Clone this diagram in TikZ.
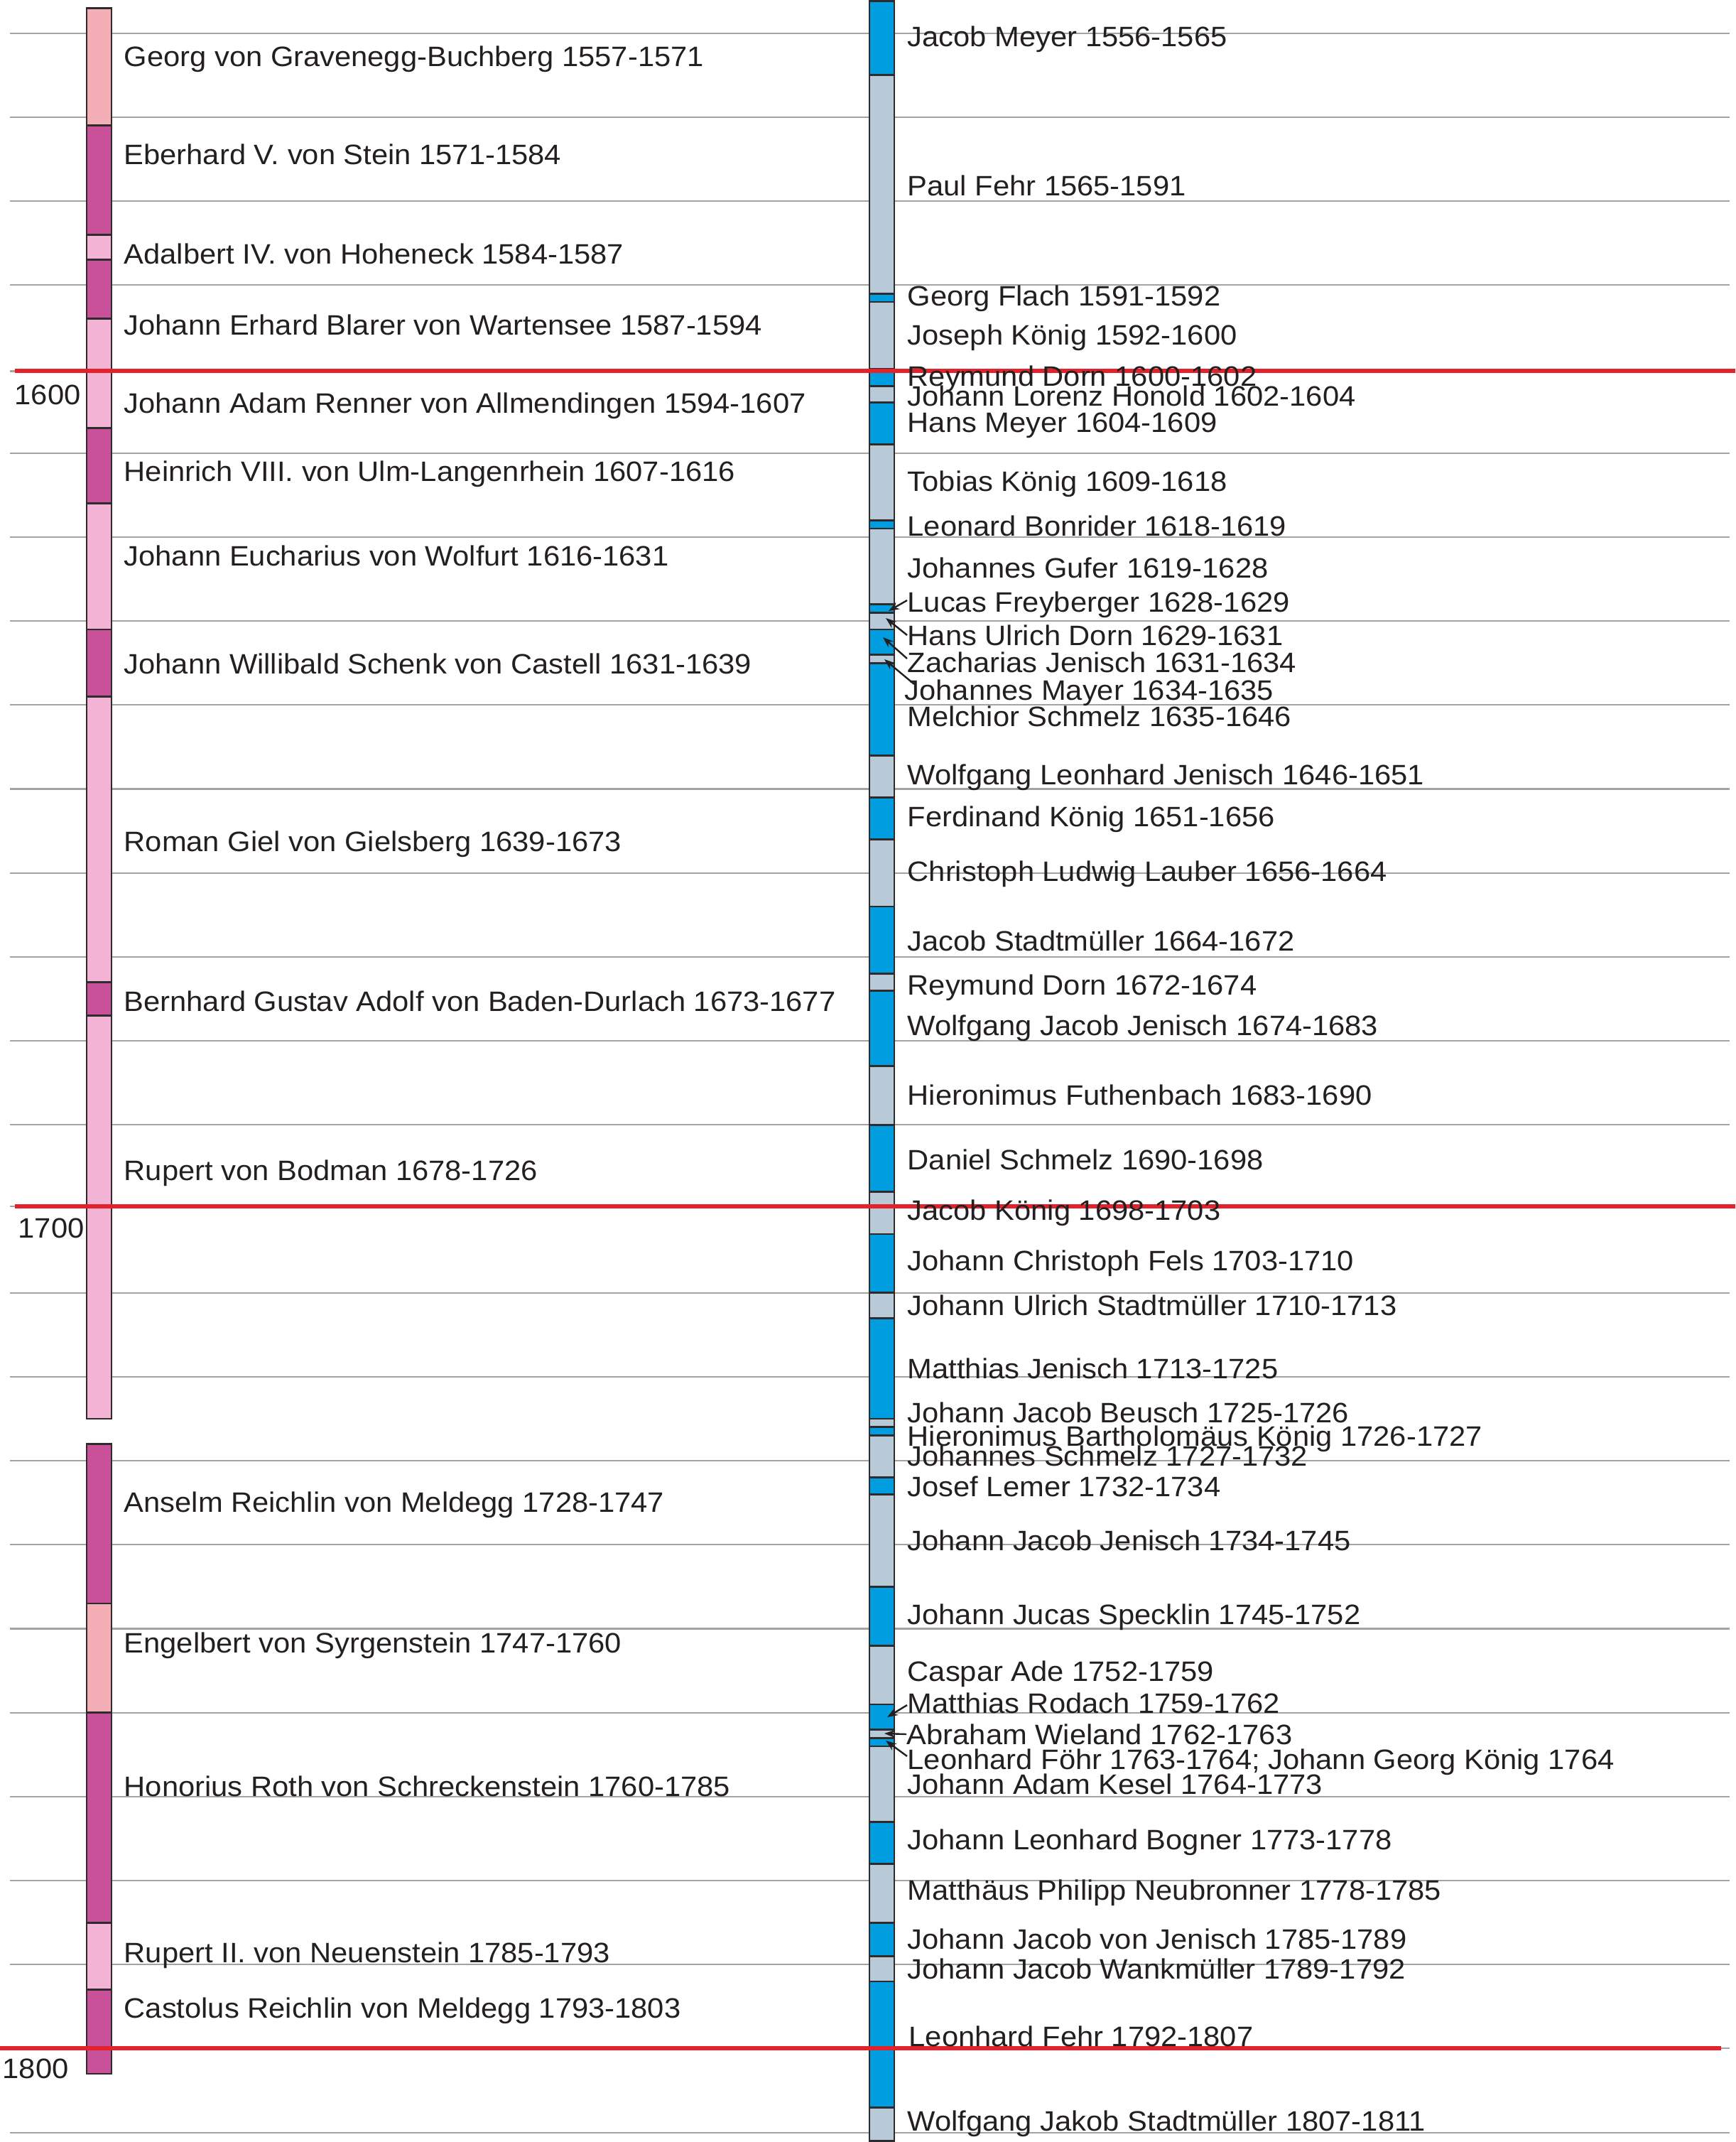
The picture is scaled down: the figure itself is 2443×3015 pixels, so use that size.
\documentclass[tikz,border=0pt]{standalone}
\usepackage{fontspec}
\setmainfont{Liberation Sans}[FakeStretch=1.055]
\usetikzlibrary{arrows.meta}
\definecolor{abSalmon}{HTML}{F3AFB5}
\definecolor{abMag}{HTML}{C8519A}
\definecolor{abPink}{HTML}{F3B3D4}
\definecolor{bBlue}{HTML}{009EE0}
\definecolor{bGrey}{HTML}{B8CAD8}
\definecolor{redLine}{HTML}{E3232C}
\definecolor{gridGrey}{HTML}{A3A3A3}
\definecolor{txtDark}{HTML}{231F20}
\definecolor{barEdge}{HTML}{2E2B2C}
\begin{document}
\begin{tikzpicture}[x=0.1mm,y=-0.1mm,
  declare function={yr(\t)=46.7+(\t-1560)*11.82;},
  gridline/.style={draw=gridGrey,line width=0.22mm},
  redrule/.style={draw=redLine,line width=0.6mm},
  segbox/.style={draw=barEdge,line width=0.28mm},
  lab/.style={anchor=west,inner sep=0pt,text height=2.83mm,text depth=0pt,
    font=\fontsize{11.25pt}{13pt}\selectfont,text=txtDark},
  pointer/.style={draw=txtDark,line width=0.24mm,-{Stealth[length=1.5mm,width=1.1mm]}}]
\useasboundingbox (0,0) rectangle (2443,3015);
% grid
\foreach \t in {1560,1570,1580,1590,1610,1620,1630,1640,1650,1660,1670,1680,1690,1710,1720,1730,1740,1750,1760,1770,1780,1790,1810}
  \draw[gridline] (14,{yr(\t)}) -- (2435,{yr(\t)});
\draw[gridline] (14,522.5) -- (2435,522.5);
\draw[gridline] (14,1698) -- (2435,1698);
\draw[gridline] (14,2883) -- (2435,2883);
% left bar
\foreach \a/\b/\c in {1557/1571/abSalmon,1571/1584/abMag,1584/1587/abPink,1587/1594/abMag,
  1594/1607/abPink,1607/1616/abMag,1616/1631/abPink,1631/1639/abMag,1639/1673/abPink,
  1673/1677/abMag,1677/1725/abPink,1728/1747/abMag,1747/1760/abSalmon,1760/1785/abMag,
  1785/1793/abPink,1793/1803/abMag}
  \draw[segbox,fill=\c] (122,{yr(\a)}) rectangle (157,{yr(\b)});
% right bar
\foreach \a/\b/\c in {1556.2/1565/bBlue,1565/1591/bGrey,1591/1592/bBlue,1592/1600/bGrey,
  1600/1602/bBlue,1602/1604/bGrey,1604/1609/bBlue,1609/1618/bGrey,1618/1619/bBlue,
  1619/1628/bGrey,1628/1629/bBlue,1629/1631/bGrey,1631/1634/bBlue,1634/1635/bGrey,
  1635/1646/bBlue,1646/1651/bGrey,1651/1656/bBlue,1656/1664/bGrey,1664/1672/bBlue,
  1672/1674/bGrey,1674/1683/bBlue,1683/1690/bGrey,1690/1698/bBlue,1698/1703/bGrey,
  1703/1710/bBlue,1710/1713/bGrey,1713/1725/bBlue,1725/1726/bGrey,1726/1727/bBlue,
  1727/1732/bGrey,1732/1734/bBlue,1734/1745/bGrey,1745/1752/bBlue,1752/1759/bGrey,
  1759/1762/bBlue,1762/1763/bGrey,1763/1764/bBlue,1764/1773/bGrey,1773/1778/bBlue,
  1778/1785/bGrey,1785/1789/bBlue,1789/1792/bGrey,1792/1807/bBlue,1807/1811/bGrey}
  \draw[segbox,fill=\c] (1224,{yr(\a)}) rectangle (1259,{yr(\b)});
% century rules
\draw[redrule] (21,522.5) -- (2443,522.5);
\draw[redrule] (21,1698) -- (2443,1698);
\draw[redrule] (0,2883) -- (2423,2883);
% year labels
\node[lab] (y1600) at (20,555) {1600};
\node[lab] (y1700) at (25,1728) {1700};
\node[lab] (y1800) at (3,2911) {1800};
% left labels
\node[lab] (a01) at (174,79) {Georg von Gravenegg-Buchberg 1557-1571};
\node[lab] (a02) at (174,217) {Eberhard V. von Stein 1571-1584};
\node[lab] (a03) at (174,357.5) {Adalbert IV. von Hoheneck 1584-1587};
\node[lab] (a04) at (174,457) {Johann Erhard Blarer von Wartensee 1587-1594};
\node[lab] (a05) at (174,567) {Johann Adam Renner von Allmendingen 1594-1607};
\node[lab] (a06) at (174,663) {Heinrich VIII. von Ulm-Langenrhein 1607-1616};
\node[lab] (a07) at (174,782) {Johann Eucharius von Wolfurt 1616-1631};
\node[lab] (a08) at (174,934) {Johann Willibald Schenk von Castell 1631-1639};
\node[lab] (a09) at (174,1184) {Roman Giel von Gielsberg 1639-1673};
\node[lab] (a10) at (174,1409) {Bernhard Gustav Adolf von Baden-Durlach 1673-1677};
\node[lab] (a11) at (174,1647.5) {Rupert von Bodman 1678-1726};
\node[lab] (a12) at (174,2114.5) {Anselm Reichlin von Meldegg 1728-1747};
\node[lab] (a13) at (174,2312) {Engelbert von Syrgenstein 1747-1760};
\node[lab] (a14) at (174,2514) {Honorius Roth von Schreckenstein 1760-1785};
\node[lab] (a15) at (174,2748) {Rupert II. von Neuenstein 1785-1793};
\node[lab] (a16) at (174,2826) {Castolus Reichlin von Meldegg 1793-1803};
% right labels
\node[lab] (b01) at (1277,51) {Jacob Meyer 1556-1565};
\node[lab] (b02) at (1277,261) {Paul Fehr 1565-1591};
\node[lab] (b03) at (1277,416.5) {Georg Flach 1591-1592};
\node[lab] (b04) at (1277,471) {Joseph König 1592-1600};
\node[lab] (b05) at (1277,529) {Reymund Dorn 1600-1602};
\node[lab] (b06) at (1277,557) {Johann Lorenz Honold 1602-1604};
\node[lab] (b07) at (1277,594) {Hans Meyer 1604-1609};
\node[lab] (b08) at (1277,677) {Tobias König 1609-1618};
\node[lab] (b09) at (1277,740.5) {Leonard Bonrider 1618-1619};
\node[lab] (b10) at (1277,799.5) {Johannes Gufer 1619-1628};
\node[lab] (b11) at (1277,847.5) {Lucas Freyberger 1628-1629};
\node[lab] (b12) at (1277,894) {Hans Ulrich Dorn 1629-1631};
\node[lab] (b13) at (1277,932) {Zacharias Jenisch 1631-1634};
\node[lab] (b14) at (1273,971) {Johannes Mayer 1634-1635};
\node[lab] (b15) at (1277,1008.5) {Melchior Schmelz 1635-1646};
\node[lab] (b16) at (1277,1090) {Wolfgang Leonhard Jenisch 1646-1651};
\node[lab] (b17) at (1277,1149.5) {Ferdinand König 1651-1656};
\node[lab] (b18) at (1277,1226) {Christoph Ludwig Lauber 1656-1664};
\node[lab] (b19) at (1277,1324) {Jacob Stadtmüller 1664-1672};
\node[lab] (b20) at (1277,1386) {Reymund Dorn 1672-1674};
\node[lab] (b21) at (1277,1443.5) {Wolfgang Jacob Jenisch 1674-1683};
\node[lab] (b22) at (1277,1541.5) {Hieronimus Futhenbach 1683-1690};
\node[lab] (b23) at (1277,1632) {Daniel Schmelz 1690-1698};
\node[lab] (b24) at (1277,1703) {Jacob König 1698-1703};
\node[lab] (b25) at (1277,1774) {Johann Christoph Fels 1703-1710};
\node[lab] (b26) at (1277,1837.5) {Johann Ulrich Stadtmüller 1710-1713};
\node[lab] (b27) at (1277,1926) {Matthias Jenisch 1713-1725};
\node[lab] (b28) at (1277,1988.5) {Johann Jacob Beusch 1725-1726};
\node[lab] (b29) at (1277,2021) {Hieronimus Bartholomäus König 1726-1727};
\node[lab] (b30) at (1277,2049.5) {Johannes Schmelz 1727-1732};
\node[lab] (b31) at (1277,2092) {Josef Lemer 1732-1734};
\node[lab] (b32) at (1277,2168) {Johann Jacob Jenisch 1734-1745};
\node[lab] (b33) at (1277,2272) {Johann Jucas Specklin 1745-1752};
\node[lab] (b34) at (1277,2352.5) {Caspar Ade 1752-1759};
\node[lab] (b35) at (1277,2397) {Matthias Rodach 1759-1762};
\node[lab] (b36) at (1276,2441) {Abraham Wieland 1762-1763};
\node[lab] (b37) at (1277,2476) {Leonhard Föhr 1763-1764; Johann Georg König 1764};
\node[lab] (b38) at (1277,2511) {Johann Adam Kesel 1764-1773};
\node[lab] (b39) at (1277,2589) {Johann Leonhard Bogner 1773-1778};
\node[lab] (b40) at (1277,2660) {Matthäus Philipp Neubronner 1778-1785};
\node[lab] (b41) at (1277,2729) {Johann Jacob von Jenisch 1785-1789};
\node[lab] (b42) at (1277,2771) {Johann Jacob Wankmüller 1789-1792};
\node[lab] (b43) at (1279,2866.5) {Leonhard Fehr 1792-1807};
\node[lab] (b44) at (1277,2985.5) {Wolfgang Jakob Stadtmüller 1807-1811};
% pointer tips inside the bar
\coordinate (t11) at (1251,860);
\coordinate (t12) at (1247,870);
\coordinate (t13) at (1243,897);
\coordinate (t14) at (1245,928);
\coordinate (t35) at (1249,2417);
\coordinate (t36) at (1245,2440);
\coordinate (t37) at (1247,2450);
\draw[pointer] ([yshift=0.25mm]b11.west) -- (t11);
\draw[pointer] (b12.west) -- (t12);
\draw[pointer] ([yshift=0.5mm]b13.west) -- (t13);
\draw[pointer] ([xshift=1.4mm,yshift=0.8mm]b14.west) -- (t14);
\draw[pointer] ([yshift=-0.3mm]b35.west) -- (t35);
\draw[pointer] (b36.west) -- (t36);
\draw[pointer] ([yshift=0.4mm]b37.west) -- (t37);
\end{tikzpicture}
\end{document}
